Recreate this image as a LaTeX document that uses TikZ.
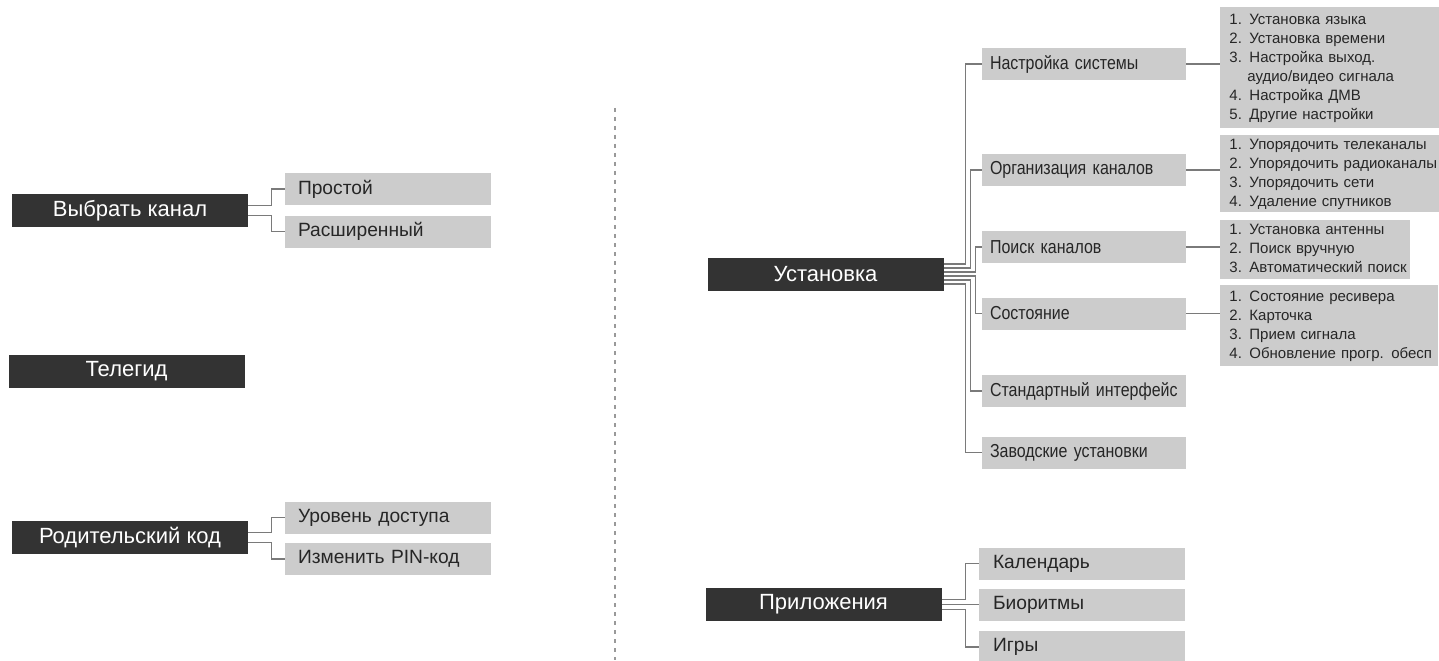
\documentclass[tikz,border=0pt]{standalone}
\usepackage{fontspec}
\setmainfont{Liberation Sans}
\definecolor{menudark}{HTML}{333333}
\definecolor{menulight}{HTML}{CCCCCC}
\definecolor{wiregray}{HTML}{7A7A7A}
\begin{document}
\begin{tikzpicture}[x=0.5pt,y=0.5pt,
    topbox/.style={fill=menudark,text=white,minimum width=118pt,minimum height=16.5pt,
        inner sep=0pt,font=\fontsize{11}{13}\selectfont},
    subbox/.style={fill=menulight,text=black!85,minimum height=16pt,inner ysep=0pt,
        inner xsep=6.5pt,text width=90pt,align=left,font=\fontsize{9.6}{11}\selectfont},
    setupkid/.style={subbox,inner xsep=4pt,text width=94pt,
        font=\fontsize{9.4}{11}\selectfont\addfontfeature{FakeStretch=0.85}},
    appkid/.style={subbox,inner xsep=7pt,text width=89pt},
    listbox/.style={fill=menulight,text=black!85,anchor=north west,inner ysep=0pt,
        inner xsep=4.5pt,align=left,font=\fontsize{7.5}{9.5}\selectfont},
    wire/.style={draw=wiregray,line width=0.85pt},
    divider/.style={draw=gray!80,line width=1pt,dash pattern=on 2pt off 2.5pt}]
    \useasboundingbox (0,0) rectangle (1439,660);

    % left menus
    \node[topbox] (chan) at (130,449.5) {Выбрать канал};
    \node[subbox] (easy) at (388,471) {Простой};
    \node[subbox] (adv) at (388,428.5) {Расширенный};
    \draw[wire] ([yshift=2.5pt]chan.east) -| ([xshift=-6.5pt]easy.west) -- (easy.west);
    \draw[wire] ([yshift=-2.5pt]chan.east) -| ([xshift=-6.5pt]adv.west) -- (adv.west);

    \node[topbox] (epg) at (126.5,288.5) {Телегид};

    \node[topbox] (lock) at (130,122.5) {Родительский код};
    \node[subbox] (level) at (388,142.5) {Уровень доступа};
    \node[subbox] (pin) at (388,101) {Изменить PIN-код};
    \draw[wire] ([yshift=2.5pt]lock.east) -| ([xshift=-6.5pt]level.west) -- (level.west);
    \draw[wire] ([yshift=-2.5pt]lock.east) -| ([xshift=-6.5pt]pin.west) -- (pin.west);

    % divider
    \coordinate (cuttop) at (615,552);
    \coordinate (cutbot) at (615,0);
    \draw[divider] (cuttop) -- (cutbot);

    % setup menu
    \node[topbox] (setup) at (825.5,386) {Установка};
    \node[setupkid] (sys) at (1084,596) {Настройка системы};
    \node[setupkid] (org) at (1084,490) {Организация каналов};
    \node[setupkid] (scan) at (1084,413) {Поиск каналов};
    \node[setupkid] (stat) at (1084,346.5) {Состояние};
    \node[setupkid] (ci) at (1084,269) {Стандартный интерфейс};
    \node[setupkid] (reset) at (1084,207.5) {Заводские установки};
    \draw[wire] ([yshift=5pt]setup.east) -| ([xshift=-8pt]sys.west) -- (sys.west);
    \draw[wire] ([yshift=3pt]setup.east) -| ([xshift=-5.5pt]org.west) -- (org.west);
    \draw[wire] ([yshift=1pt]setup.east) -| ([xshift=-3pt]scan.west) -- (scan.west);
    \draw[wire] ([yshift=-1pt]setup.east) -| ([xshift=-3pt]stat.west) -- (stat.west);
    \draw[wire] ([yshift=-3pt]setup.east) -| ([xshift=-5.5pt]ci.west) -- (ci.west);
    \draw[wire] ([yshift=-5pt]setup.east) -| ([xshift=-8pt]reset.west) -- (reset.west);

    % item lists
    \node[listbox,minimum height=60.5pt,text width=100.5pt] (sysl) at (1220,653)
        {\begin{tabular}{@{}l@{}}
         1. Установка языка\\2. Установка времени\\3. Настройка выход.\\
         \hspace*{9pt}аудио/видео сигнала\\4. Настройка ДМВ\\5. Другие настройки
         \end{tabular}};
    \node[listbox,minimum height=38.5pt,text width=100.5pt] (orgl) at (1220,525)
        {\begin{tabular}{@{}l@{}}
         1. Упорядочить телеканалы\\2. Упорядочить радиоканалы\\
         3. Упорядочить сети\\4. Удаление спутников
         \end{tabular}};
    \node[listbox,minimum height=29.5pt,text width=86pt] (scanl) at (1220,440)
        {\begin{tabular}{@{}l@{}}
         1. Установка антенны\\2. Поиск вручную\\3. Автоматический поиск
         \end{tabular}};
    \node[listbox,minimum height=40.5pt,text width=100pt] (statl) at (1220,375)
        {\begin{tabular}{@{}l@{}}
         1. Состояние ресивера\\2. Карточка\\3. Прием сигнала\\
         4. Обновление прогр. обесп
         \end{tabular}};
    \draw[wire] (sys.east) -- (sys.east -| sysl.west);
    \draw[wire] (org.east) -- (org.east -| orgl.west);
    \draw[wire] (scan.east) -- (scan.east -| scanl.west);
    \draw[wire] (stat.east) -- (stat.east -| statl.west);

    % applications
    \node[topbox] (apps) at (823.5,55.5) {Приложения};
    \node[appkid] (cal) at (1082,96.5) {Календарь};
    \node[appkid] (bio) at (1082,55) {Биоритмы};
    \node[appkid] (games) at (1082,13) {Игры};
    \draw[wire] ([yshift=2.5pt]apps.east) -| ([xshift=-6.5pt]cal.west) -- (cal.west);
    \draw[wire] (apps.east) -- (apps.east -| bio.west);
    \draw[wire] ([yshift=-2.5pt]apps.east) -| ([xshift=-6.5pt]games.west) -- (games.west);
\end{tikzpicture}
\end{document}
